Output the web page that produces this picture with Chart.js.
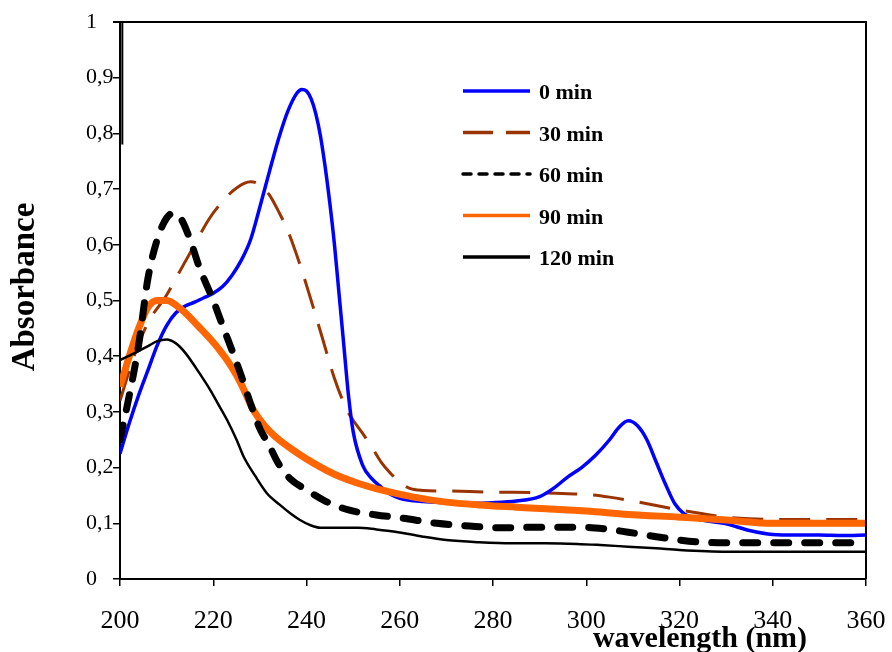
<!DOCTYPE html>
<html>
<head>
<meta charset="utf-8">
<script src="https://cdn.jsdelivr.net/npm/chart.js@4.4.1/dist/chart.umd.min.js"></script>
<style>
    html, body { margin: 0; padding: 0; background: #ffffff; }
</style>
</head>
<body>
<canvas id="chartAbsorbance" width="892" height="652"></canvas>
<script>
// Données (longueur d'onde en nm, absorbance)
const legendeSeries = ['0 min', '30 min', '60 min', '90 min', '120 min'];

const lambda0 = [200, 202, 204, 206, 208, 210, 212, 214, 216, 218, 220, 222, 224, 226, 228, 230, 232, 234, 236, 238, 239, 240, 241, 242, 243, 244, 245, 246, 247, 248, 249, 250, 252, 254, 256, 258, 260, 265, 270, 275, 280, 285, 290, 293, 296, 299, 302, 305, 307, 309, 311, 313, 315, 317, 319, 321, 323, 326, 330, 335, 340, 345, 350, 355, 360];
const abs0 = [0.225, 0.28, 0.33, 0.375, 0.42, 0.455, 0.478, 0.49, 0.497, 0.505, 0.513, 0.525, 0.545, 0.572, 0.609, 0.668, 0.73, 0.79, 0.84, 0.873, 0.879, 0.876, 0.862, 0.835, 0.795, 0.74, 0.675, 0.6, 0.51, 0.42, 0.33, 0.265, 0.205, 0.18, 0.165, 0.152, 0.145, 0.139, 0.137, 0.136, 0.137, 0.14, 0.148, 0.163, 0.183, 0.2, 0.222, 0.25, 0.272, 0.284, 0.275, 0.25, 0.21, 0.17, 0.135, 0.117, 0.11, 0.104, 0.099, 0.087, 0.08, 0.079, 0.079, 0.078, 0.079];

const lambda30 = [200, 203, 206, 210, 213, 216, 219, 222, 225, 228, 230, 232, 234, 236, 238.5, 241, 243.5, 246, 248.7, 250, 252, 254, 256, 258, 260, 262, 265, 270, 280, 290, 296, 300, 305, 310, 315, 320, 325, 330, 335, 340, 350, 360];
const abs30 = [0.32, 0.40, 0.46, 0.51, 0.555, 0.6, 0.645, 0.678, 0.702, 0.713, 0.708, 0.69, 0.66, 0.625, 0.567, 0.5, 0.43, 0.36, 0.303, 0.285, 0.262, 0.237, 0.21, 0.19, 0.174, 0.163, 0.159, 0.158, 0.156, 0.155, 0.153, 0.152, 0.147, 0.14, 0.132, 0.124, 0.117, 0.111, 0.108, 0.107, 0.107, 0.107];

const lambda60 = [200, 202, 204, 206, 208, 210, 211.5, 213, 215, 217, 220, 222, 224.5, 226, 228, 230, 232, 234, 236.5, 240, 244, 249, 255, 260, 268, 275, 282, 290, 299, 304, 309, 315, 320, 325, 330, 340, 350, 360];
const abs60 = [0.25, 0.33, 0.42, 0.54, 0.61, 0.648, 0.657, 0.648, 0.61, 0.56, 0.5, 0.455, 0.40, 0.365, 0.315, 0.27, 0.24, 0.207, 0.18, 0.16, 0.14, 0.124, 0.115, 0.11, 0.1, 0.095, 0.092, 0.093, 0.093, 0.09, 0.084, 0.076, 0.07, 0.066, 0.065, 0.065, 0.065, 0.065];

const lambda90 = [200, 202, 204, 206, 208, 210, 213, 217, 221, 224, 226, 228.5, 231, 233, 236, 238.6, 241.5, 246, 251, 256, 263, 270, 277, 285, 291.5, 300, 309, 320, 330, 340, 350, 360];
const abs90 = [0.345, 0.40, 0.45, 0.488, 0.5, 0.5, 0.485, 0.452, 0.415, 0.38, 0.35, 0.305, 0.275, 0.258, 0.238, 0.223, 0.208, 0.188, 0.172, 0.16, 0.147, 0.138, 0.133, 0.129, 0.126, 0.122, 0.116, 0.111, 0.106, 0.1, 0.1, 0.1];

const lambda120 = [200, 203, 206, 208, 210, 212, 214, 217, 219.3, 221, 223, 225, 226.5, 229, 231.5, 234.3, 236.5, 238.6, 241, 243, 246, 251, 255, 259, 265, 270, 277, 284, 291, 298, 303, 309, 315, 320, 330, 340, 350, 360];
const abs120 = [0.393, 0.405, 0.418, 0.427, 0.43, 0.423, 0.406, 0.37, 0.34, 0.315, 0.285, 0.25, 0.22, 0.185, 0.154, 0.133, 0.118, 0.106, 0.096, 0.092, 0.092, 0.092, 0.089, 0.085, 0.076, 0.07, 0.066, 0.064, 0.064, 0.063, 0.061, 0.058, 0.055, 0.052, 0.049, 0.049, 0.049, 0.049];

// Petit pic vertical au tout début (200 nm)
const lambdaPic = [200.5, 200.5];
const absPic = [1.0, 0.78];

// Graduations
const yTickLabels = ['0', '0,1', '0,2', '0,3', '0,4', '0,5', '0,6', '0,7', '0,8', '0,9', '1'];

const policeSerif = "'Liberation Serif', 'Times New Roman', serif";

function construirePoints(xs, ys) {
    return xs.map((x, i) => ({ x: x, y: ys[i] }));
}

// Cadre, titres des axes et légende dessinés à la main
const pluginCadreLegende = {
    id: 'cadreLegende',
    afterDraw(chart) {
        const ctx = chart.ctx;
        const area = chart.chartArea;
        ctx.save();

        // Cadre haut et droite
        ctx.strokeStyle = '#000';
        ctx.lineWidth = 2;
        ctx.beginPath();
        ctx.moveTo(113, area.top);
        ctx.lineTo(area.right, area.top);
        ctx.lineTo(area.right, area.bottom);
        ctx.stroke();

        // Titre axe Y
        ctx.fillStyle = '#000';
        ctx.font = "bold 33px " + policeSerif;
        ctx.textAlign = 'center';
        ctx.textBaseline = 'alphabetic';
        ctx.save();
        ctx.translate(34, 287);
        ctx.rotate(-Math.PI / 2);
        ctx.fillText('Absorbance', 0, 0);
        ctx.restore();

        // Titre axe X
        ctx.font = "bold 30px " + policeSerif;
        ctx.fillText('wavelength (nm)', 700, 647);

        // Légende
        const xDebut = 463, xFin = 530, yDebut = 91, pas = 41.5;
        chart.data.datasets.forEach((ds, i) => {
            if (!ds.legendDash) {
                return;
            }
            const y = yDebut + i * pas;
            ctx.strokeStyle = ds.borderColor;
            ctx.lineWidth = 3.5;
            ctx.lineCap = ds.legendCap;
            ctx.setLineDash(ds.legendDash);
            ctx.beginPath();
            ctx.moveTo(xDebut, y);
            ctx.lineTo(xFin, y);
            ctx.stroke();
            ctx.setLineDash([]);
            ctx.fillStyle = '#000';
            ctx.font = "bold 22px " + policeSerif;
            ctx.textAlign = 'left';
            ctx.fillText(ds.label, 539, y + 8);
        });

        ctx.restore();
    }
};

function loadChartAbsorbance() {
    const canvas = document.getElementById('chartAbsorbance');

    const datasets = [
        {
            label: legendeSeries[0],
            data: construirePoints(lambda0, abs0),
            borderColor: '#0000FF',
            borderWidth: 3.5,
            legendDash: [0],
            legendCap: 'butt',
            order: 4
        },
        {
            label: legendeSeries[1],
            data: construirePoints(lambda30, abs30),
            borderColor: '#993300',
            borderWidth: 3,
            borderDash: [31, 16],
            legendDash: [30, 13],
            legendCap: 'butt',
            order: 5
        },
        {
            label: legendeSeries[2],
            data: construirePoints(lambda60, abs60),
            borderColor: '#000000',
            borderWidth: 7,
            borderDash: [15, 16],
            borderCapStyle: 'round',
            legendDash: [8, 8],
            legendCap: 'round',
            order: 2
        },
        {
            label: legendeSeries[3],
            data: construirePoints(lambda90, abs90),
            borderColor: '#FF6600',
            borderWidth: 7,
            legendDash: [0],
            legendCap: 'butt',
            order: 3
        },
        {
            label: legendeSeries[4],
            data: construirePoints(lambda120, abs120),
            borderColor: '#000000',
            borderWidth: 2.5,
            legendDash: [0],
            legendCap: 'butt',
            order: 1
        },
        {
            label: '',
            data: construirePoints(lambdaPic, absPic),
            borderColor: '#000000',
            borderWidth: 2,
            order: 0
        }
    ];

    // Pas de points, courbes lissées
    datasets.forEach(ds => {
        ds.pointRadius = 0;
        ds.fill = false;
        ds.cubicInterpolationMode = 'monotone';
    });

    const chart = new Chart(canvas, {
        type: 'line',
        data: { datasets: datasets },
        plugins: [pluginCadreLegende],
        options: {
            responsive: false,
            animation: false,
            devicePixelRatio: 1,
            layout: {
                padding: { left: 86, top: 22, right: 26, bottom: 0 }
            },
            plugins: {
                legend: { display: false },
                tooltip: { enabled: false }
            },
            scales: {
                x: {
                    type: 'linear',
                    min: 200,
                    max: 360,
                    afterFit: scale => {
                        scale.height = 73;
                        scale.paddingLeft = 0;
                        scale.paddingRight = 0;
                    },
                    ticks: {
                        stepSize: 20,
                        color: '#000',
                        padding: 20,
                        maxRotation: 0,
                        font: { family: policeSerif, size: 26 }
                    },
                    grid: {
                        drawOnChartArea: false,
                        tickLength: 7,
                        lineWidth: 1.5,
                        color: '#000'
                    },
                    border: { color: '#000', width: 2 }
                },
                y: {
                    min: 0,
                    max: 1,
                    afterFit: scale => {
                        scale.width = 34;
                        scale.paddingTop = 0;
                        scale.paddingBottom = 0;
                    },
                    ticks: {
                        stepSize: 0.1,
                        color: '#000',
                        crossAlign: 'far',
                        font: { family: policeSerif, size: 22 },
                        callback: (value, index) => yTickLabels[index]
                    },
                    grid: {
                        drawOnChartArea: false,
                        tickLength: 7,
                        lineWidth: 1.5,
                        color: '#000'
                    },
                    border: { color: '#000', width: 2 }
                }
            }
        }
    });

    return chart;
}

loadChartAbsorbance();
</script>
</body>
</html>
